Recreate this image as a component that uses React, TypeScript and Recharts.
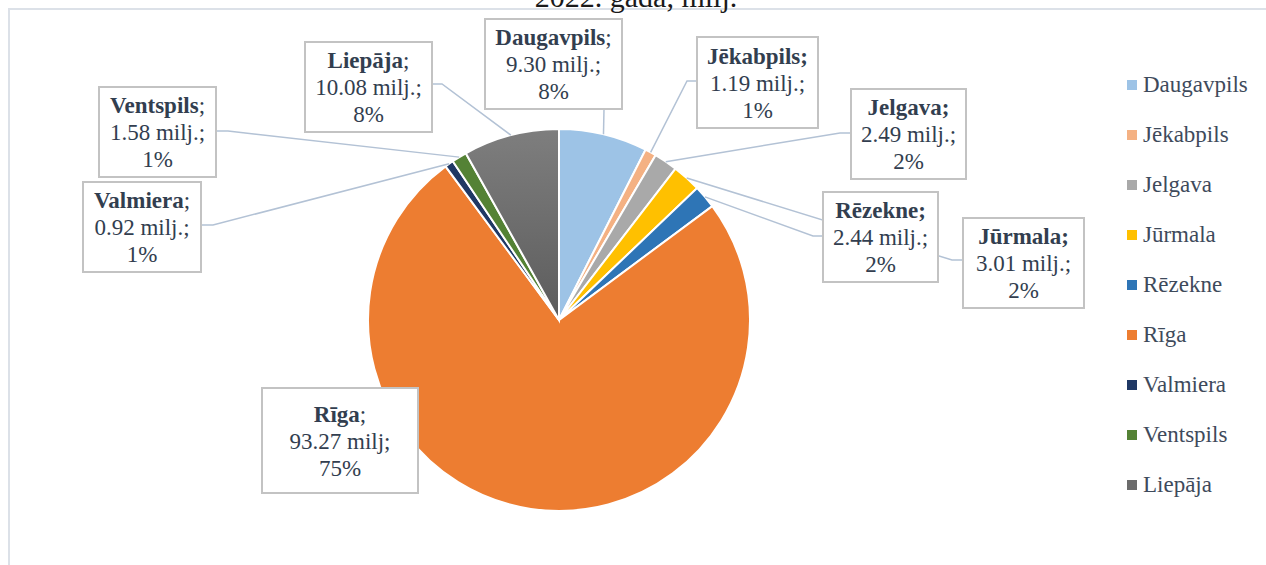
import { PieChart, Pie, Cell, Legend } from "recharts";

const cities = ["Daugavpils", "Jēkabpils", "Jelgava", "Jūrmala", "Rēzekne", "Rīga", "Valmiera", "Ventspils", "Liepāja"];
const amounts = [9.3, 1.19, 2.49, 3.01, 2.44, 93.27, 0.92, 1.58, 10.08];
const amountLabels = ["9.30 milj.;", "1.19 milj.;", "2.49 milj.;", "3.01 milj.;", "2.44 milj.;", "93.27 milj;", "0.92 milj.;", "1.58 milj.;", "10.08 milj.;"];
const shareLabels = ["8%", "1%", "2%", "2%", "2%", "75%", "1%", "1%", "8%"];
const colors = ["#9DC3E6", "#F4B183", "#A9A9A9", "#FFC000", "#2E75B6", "#ED7D31", "#1F3864", "#548235", "url(#liepajaFill)"];
const legendColors = ["#9DC3E6", "#F4B183", "#A9A9A9", "#FFC000", "#2E75B6", "#ED7D31", "#1F3864", "#548235", "#6B6B6B"];

const data = cities.map((name, i) => ({ name, value: amounts[i] }));

const FONT = '"Liberation Serif", "Times New Roman", serif';
const TEXT = "#323E4F";
const RAD = Math.PI / 180;

// label box placement (same order as cities)
type LabelBox = { x: number; y: number; w: number; h: number; line?: number[][]; boldSemi?: boolean };
const labelBoxes: LabelBox[] = [
  { x: 485, y: 19, w: 137, h: 90, line: [[604, 109]] },
  { x: 697, y: 37, w: 121, h: 91, line: [[687, 81], [697, 81]], boldSemi: true },
  { x: 851, y: 89, w: 115, h: 90, line: [[840, 133], [851, 133]], boldSemi: true },
  { x: 963, y: 218, w: 121, h: 90, line: [[952, 260], [963, 260]], boldSemi: true },
  { x: 823, y: 192, w: 115, h: 90, line: [[813, 236], [823, 236]], boldSemi: true },
  { x: 262, y: 388, w: 156, h: 105 },
  { x: 83, y: 182, w: 118, h: 90, line: [[213, 225], [201, 225]] },
  { x: 99, y: 87, w: 117, h: 90, line: [[228, 131], [216, 131]] },
  { x: 305, y: 42, w: 127, h: 90, line: [[442, 84], [432, 84]] },
];

function renderLabel(props: any) {
  const { cx, cy, midAngle, outerRadius } = props;
  const i = typeof props.index === "number" ? props.index : cities.indexOf(props.name);
  const b = labelBoxes[i];
  if (!b) return null;
  const sx = cx + outerRadius * Math.cos(-midAngle * RAD);
  const sy = cy + outerRadius * Math.sin(-midAngle * RAD);
  const mx = b.x + b.w / 2;
  const my = b.y + b.h / 2;
  const pts = b.line ? [[sx, sy], ...b.line].map((p) => p.join(",")).join(" ") : "";
  return (
    <g>
      {b.line && <polyline points={pts} fill="none" stroke="#B3C2D5" strokeWidth={1.5} />}
      <rect x={b.x} y={b.y} width={b.w} height={b.h} fill="#fff" stroke="#C3C3C3" strokeWidth={2} />
      <text textAnchor="middle" fontFamily={FONT} fontSize={23} fill={TEXT}>
        <tspan x={mx} y={my - 27 + 8}>
          <tspan fontWeight="bold">{cities[i] + (b.boldSemi ? ";" : "")}</tspan>
          {b.boldSemi ? "" : ";"}
        </tspan>
        <tspan x={mx} y={my + 8}>{amountLabels[i]}</tspan>
        <tspan x={mx} y={my + 27 + 8}>{shareLabels[i]}</tspan>
      </text>
    </g>
  );
}

const renderLegend = () => (
  <div style={{ fontFamily: FONT, fontSize: 23, color: "#3E4A5B" }}>
    {cities.map((c, i) => (
      <div key={c} style={{ height: 50, display: "flex", alignItems: "center" }}>
        <span style={{ width: 10, height: 10, background: legendColors[i], marginRight: 6, display: "inline-block" }} />
        <span>{c}</span>
      </div>
    ))}
  </div>
);

export default function App() {
  return (
    <div style={{ position: "absolute", left: 0, top: 0, width: 1266, height: 565, background: "#fff", overflow: "hidden" }}>
      <svg width={1266} height={565} style={{ position: "absolute", left: 0, top: 0 }}>
        <rect x={9} y={9} width={1262} height={570} fill="none" stroke="#DCE1E8" strokeWidth={2} />
        <text x={636} y={7} textAnchor="middle" fontFamily={FONT} fontSize={30} fill="#1A1A1A">
          2022. gada, milj.
        </text>
      </svg>
      <div style={{ position: "absolute", left: 0, top: 0 }}>
        <PieChart width={1266} height={565} margin={{ top: 0, right: 0, bottom: 0, left: 0 }}>
          <defs>
            <linearGradient id="liepajaFill" x1="0" y1="0" x2="0" y2="1">
              <stop offset="0%" stopColor="#7E7E7E" />
              <stop offset="100%" stopColor="#5C5C5C" />
            </linearGradient>
          </defs>
          <Pie
            data={data}
            dataKey="value"
            nameKey="name"
            cx={559}
            cy={320}
            outerRadius={191}
            startAngle={90}
            endAngle={-270}
            stroke="#fff"
            strokeWidth={2}
            label={renderLabel}
            labelLine={false}
            isAnimationActive={false}
          >
            {data.map((d, i) => (
              <Cell key={d.name} fill={colors[i]} />
            ))}
          </Pie>
          <Legend
            layout="vertical"
            align="right"
            verticalAlign="top"
            content={renderLegend}
            wrapperStyle={{ left: 1127, top: 60, width: 139 }}
          />
        </PieChart>
      </div>
    </div>
  );
}
